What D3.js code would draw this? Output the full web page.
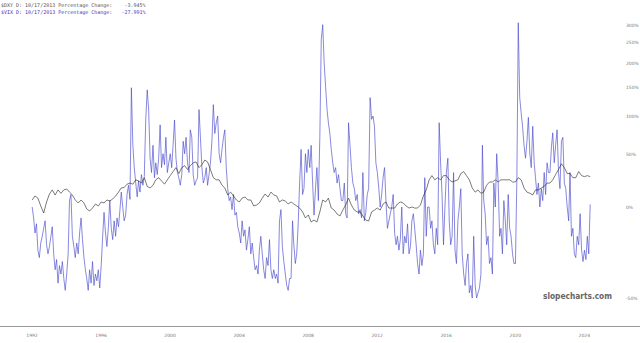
<!DOCTYPE html>
<html>
<head>
<meta charset="utf-8">
<script src="https://cdn.jsdelivr.net/npm/d3@7"></script>
<style>
  body { margin: 0; background: #fff; }
  svg { display: block; }
</style>
</head>
<body>
<script>
/* Data (percentage change) */

// VIX, one value per month from Jan 1992
var vixValues = [
  0, -8, -18, -12, -28, -32, -24, -20, -15, -10, -25, -30,
  -26, -20, -14, -30, -38, -33, -44, -36, -40, -34, -42, -47,
  -40, -30, 5, 10, -20, -26, -32, -24, -30, -18, -8, -22,
  -32, -38, -42, -47, -38, -44, -34, -45, -40, -43, -38, -46,
  -36, -20, -4, -18, -26, -14, 5, -15, -22, -10, -20, -8,
  -14, -2, 12, 0, -10, -6, 10, 18, 6, 148, 60, 35,
  20, 8, 22, 12, 28, 18, 26, 95, 144, 110, 45, 30,
  60, 25, 40, 28, 45, 87, 35, 50, 38, 70, 30, 40,
  50, 35, 60, 94, 45, 30, 25, 18, 28, 65, 50, 70,
  40, 30, 80, 70, 28, 18, 22, 25, 110, 70, 35, 20,
  25, 35, 18, 28, 40, 65, 118, 75, 90, 100, 50, 40,
  55, 70, 80, 35, 15, 5, 8, -2, 10, -6, -4, -14,
  -18, -24, -10, -20, -16, -28, -22, -14, -30, -24, -32, -38,
  -36, -40, -28, -20, -30, -38, -42, -32, -36, -22, -38, -42,
  -38, -42, -40, -44, -10, -2, -26, -34, -40, -45, -47, -42,
  -42, -10, -25, -35, -30, -12, 20, 55, 10, 15, 50, 30,
  55, 35, 60, 20, -6, 15, 35, 5, 70, 258, 301, 200,
  150, 110, 90, 75, 55, 40, 30, 35, 20, 28, 15, 5,
  5, 20, -5, -8, 90, 60, 35, 20, 15, 5, 10, -5,
  -2, -8, 30, -10, -4, 10, 15, 130, 95, 100, 85, 40,
  30, 15, 0, 10, 25, 35, 5, -15, -10, -5, 0, 10,
  -18, -25, -20, -28, -22, 0, -30, -20, -24, -12, -30, -26,
  -10, -5, -15, -25, -35, -40, -28, -36, -30, 25, -20, 0,
  0, -15, -10, -25, -30, -15, -25, 90, 40, 10, -25, 0,
  30, 45, -10, -25, -20, 30, -28, -35, -10, 0, 15, -30,
  -40, -45, -35, -30, -48, -45, -50, -20, -45, -50, -48, -46,
  -40, 60, 5, -5, -25, -20, -35, -32, -40, 20, 0, 50,
  20, -20, -15, -30, 5, -10, -25, 10, -15, -20, -30, -35,
  -35, 25, 307, 130, 105, 84, 60, 45, 65, 98, 50, 35,
  85, 40, 25, 10, 20, 0, 15, 5, 30, 10, 40, 30,
  30, 58, 76, 40, 60, 80, 30, 15, 65, 70, 20, 15,
  0, -10, 30, -20, -15, -30, -32, -20, -25, -5, -28, -34,
  -28, -33, -20, -30, 2
];

// DXY, one value every two months from Jan 1992
var dxyValues = [
  5.5, 8.8, 7, 0.8, -4.5, 3.9,
  10.4, 13.9, 9.6, 13.9, 11, 13.9,
  14.7, 12, 9.6, 5.5, 3.1, 5.5,
  3.1, -1.5, -3, -0.8, 2.3, 0.8,
  3.9, 3.1, 5.5, 4.7, 6.3, 8.8,
  12, 15.6, 16, 19, 20, 19,
  23, 22, 20, 25, 17, 15.6,
  18, 23, 25, 22, 19, 23,
  27, 31, 35, 29, 35, 37,
  33, 37, 40, 41, 35, 38,
  43, 41, 33, 25, 23, 23,
  18, 15.6, 9.6, 12, 8.8, 5.5,
  3.9, 7, 7.9, 5.5, 5.5, 0.8,
  1.5, 3.1, 7, 10.4, 7.9, 12,
  9.6, 8.8, 3.9, 5.5, 4.7, 2.3,
  3.9, 2.3, 0.8, -0.8, -3.7, -8,
  -5.9, -10.8, -9.5, -10.8, -3.7, 5.5,
  3.9, 7, -0.8, -2.3, -5.2, -6.6,
  -2.3, 1.5, 7, 1.5, -2.3, -3.7,
  -3.7, -6.6, -9.5, -10.1, -3.7, -2.3,
  -0.8, -2.3, 2.3, 3.9, -0.8, -0.8,
  -0.8, 2.3, 3.9, 3.1, 0.8, -0.8,
  0, -0.8, -0.8, 1.5, 8.8, 13.9,
  23, 27, 23, 25, 23, 27,
  27, 23, 21, 22, 23, 29,
  31, 27, 23, 15.6, 12, 13.9,
  11, 12, 18, 21, 21, 23,
  21, 23, 23, 23, 23, 21,
  21, 25, 23, 15.6, 12, 11,
  9.6, 13.9, 13.9, 15.6, 17, 20,
  20, 23, 28, 33, 39, 35,
  29, 29, 25, 25, 31, 27,
  26, 27, 26
];

var pctTicks = [-50, 0, 50, 100, 150, 200, 250, 300];

var legendLines = [
  {text: "$DXY D: 10/17/2013 Percentage Change:    -3.945%", color: "#555"},
  {text: "$VIX D: 10/17/2013 Percentage Change:   -27.991%", color: "#3a3abf"}
];


/* Canvas */

var width = 640;
var height = 343;

var svg = d3.select("body").append("svg")
	.attr("width", width)
	.attr("height", height)

var x = d3.scaleTime()
	.domain([new Date(1992, 0, 1), new Date(2024, 0, 1)])
	.range([31.5, 583.8]);

var y = d3.scaleLog()
	.domain([0.5, 4])
	.range([298, 25]);

function toPoints(values, step) {
	return values.map(function(v, i) {
		return {date: new Date(1992, i * step, 15), value: 1 + v / 100};
	});
}

var line = d3.line()
	.x(function(d) { return x(d.date); })
	.y(function(d) { return y(d.value); });


/* Series */

svg.append("path")
	.datum(toPoints(vixValues, 1))
	.attr("fill", "none")
	.attr("stroke", "#4848cc")
	.attr("stroke-width", 0.65)
	.attr("stroke-linejoin", "round")
	.attr("d", line);

svg.append("path")
	.datum(toPoints(dxyValues, 2))
	.attr("fill", "none")
	.attr("stroke", "#222")
	.attr("stroke-width", 0.6)
	.attr("d", line);


/* Axes */

svg.append("line")
	.attr("x1", 0).attr("x2", width)
	.attr("y1", 326.5).attr("y2", 326.5)
	.attr("stroke", "#999")
	.attr("stroke-width", 1);

var xAxis = svg.append("g")
	.attr("transform", "translate(0,326)")
	.call(d3.axisBottom(x)
		.ticks(d3.timeYear.every(4))
		.tickSize(0)
		.tickPadding(8)
		.tickFormat(d3.timeFormat("%Y")));
xAxis.select(".domain").remove();
xAxis.selectAll("text")
	.attr("font-family", "DejaVu Sans")
	.attr("font-size", 4.5)
	.attr("fill", "#777");

var yAxis = svg.append("g")
	.attr("transform", "translate(626,0)")
	.call(d3.axisRight(y)
		.tickValues(pctTicks.map(function(p) { return 1 + p / 100; }))
		.tickSize(0)
		.tickPadding(0)
		.tickFormat(function(d) { return Math.round((d - 1) * 100) + "%"; }));
yAxis.select(".domain").remove();
yAxis.selectAll("text")
	.attr("font-family", "DejaVu Sans")
	.attr("font-size", 4.5)
	.attr("fill", "#777");


/* Legend and watermark */

svg.selectAll(".legend")
	.data(legendLines)
	.enter().append("text")
		.attr("class", "legend")
		.attr("x", 1)
		.attr("y", function(d, i) { return 6.5 + i * 7.5; })
		.attr("xml:space", "preserve")
		.attr("font-family", "DejaVu Sans Mono")
		.attr("font-size", 5)
		.attr("fill", function(d) { return d.color; })
		.text(function(d) { return d.text; });

svg.append("text")
	.attr("x", 543)
	.attr("y", 299)
	.attr("font-family", "DejaVu Sans")
	.attr("font-weight", "bold")
	.attr("font-size", 9)
	.attr("textLength", 69)
	.attr("lengthAdjust", "spacingAndGlyphs")
	.attr("fill", "#666")
	.text("slopecharts.com");
</script>
</body>
</html>
